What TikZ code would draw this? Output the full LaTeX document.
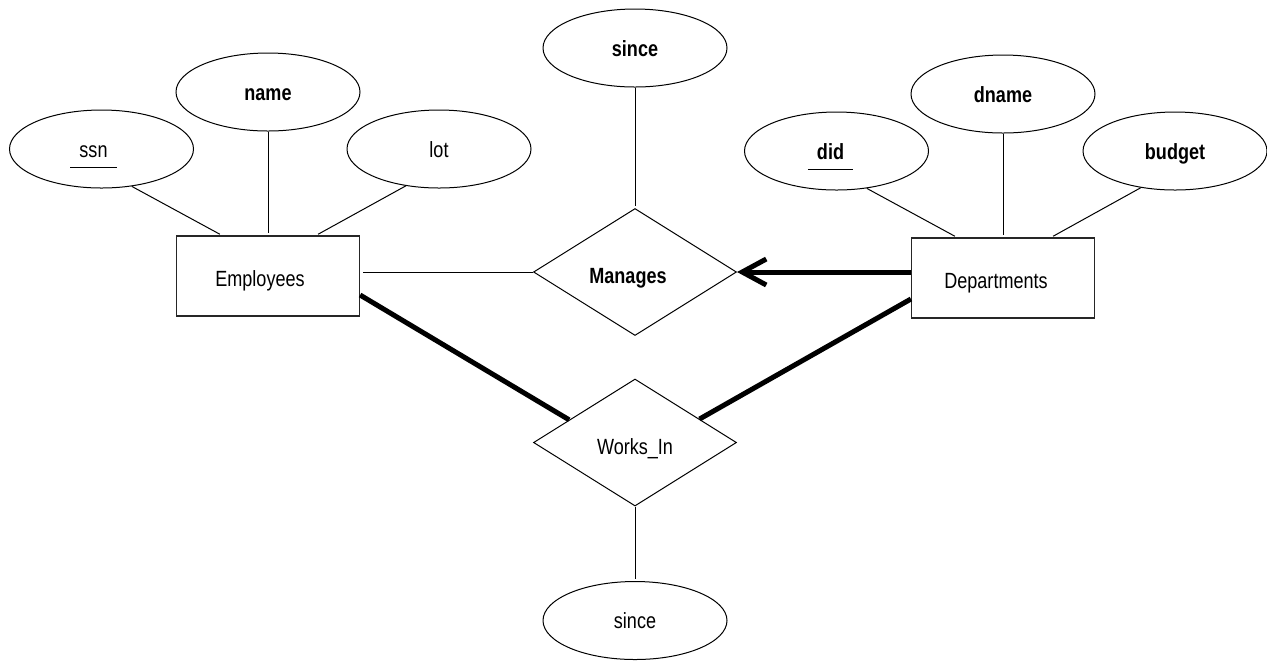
\documentclass[tikz,border=0pt]{standalone}
\usepackage{fontspec}
\setmainfont{Liberation Sans}[FakeStretch=0.82]
\usetikzlibrary{shapes.geometric, arrows.meta, positioning}
\tikzstyle{entity} = [rectangle, minimum width=91.5pt, minimum height=40pt, text height=10.5pt, text depth=0pt, draw=black!85, line width=0.6pt]
\tikzstyle{relation} = [diamond, inner sep=0pt, minimum width=101.5pt, minimum height=63.5pt, text height=11.5pt, text depth=0pt, draw=black, line width=0.5pt]
\tikzstyle{attr} = [ellipse, minimum width=92pt, minimum height=39pt, text height=8pt, text depth=0pt, draw=black, line width=0.5pt]
\tikzstyle{link} = [line width=0.5pt, shorten >=1.2pt]
\tikzstyle{total} = [line width=2.5pt]
\tikzstyle{arrow} = [line width=2.5pt, -{Straight Barb[length=12pt,width=13pt]}]
\newcommand{\keyattr}[1]{\underline{\strut\hspace{4.5pt}#1\hspace{4.5pt}}}
\begin{document}
\begin{tikzpicture}[x=1pt, y=1pt, node distance=92pt, font=\fontsize{11pt}{13pt}\selectfont]
	\useasboundingbox (0,0) rectangle (633.5,-330.5);

	\node (emp) [entity] at (134,-138) {Employees\hspace*{8pt}};
	\node (dept) [entity] at (501.5,-139) {Departments\hspace*{7pt}};
	\node (manages) [relation] at (317.5,-136) {\textbf{Manages}\hspace*{7pt}};
	\node (worksin) [relation] at (317.5,-221.25) {Works\_In};

	\node (name) [attr, above of=emp] {\textbf{name}};
	\node (ssn) [attr, above of=emp, xshift=-83.25, yshift=-28.5] {\keyattr{ssn}\hspace*{8pt}};
	\node (lot) [attr, above of=emp, xshift=85.5, yshift=-28.5] {lot};

	\draw [link] (ssn.-51) -- ([xshift=-23]emp.north);
	\draw [link] (name) -- (emp);
	\draw [link] (lot.-132) -- ([xshift=24]emp.north);

	\node (dname) [attr, above of=dept] {\textbf{dname}};
	\node (did) [attr, above of=dept, xshift=-83.25, yshift=-28.5] {\textbf{\keyattr{did}}\hspace*{6pt}};
	\node (budget) [attr, above of=dept, xshift=86, yshift=-28.5] {\textbf{budget}};

	\draw [link] (did.-51) -- ([xshift=-23]dept.north);
	\draw [link] (dname) -- (dept);
	\draw [link] (budget.-133) -- ([xshift=24]dept.north);

	\node (since) [attr, above of=manages, yshift=20] {\textbf{since}};
	\node (wsince) [attr, below of=worksin, yshift=3] {since};

	\draw [link] (since) -- (manages);
	\draw [link] (manages.west) -- ([yshift=2]emp.east);
	\draw [arrow] (dept.west |- manages.east) -- (manages.east);

	\draw [total] ([yshift=-9.5]emp.east) -- (worksin.161);
	\draw [total] ([yshift=-10.5]dept.west) -- (worksin.20);
	\draw [link] (worksin) -- (wsince);
\end{tikzpicture}
\end{document}
